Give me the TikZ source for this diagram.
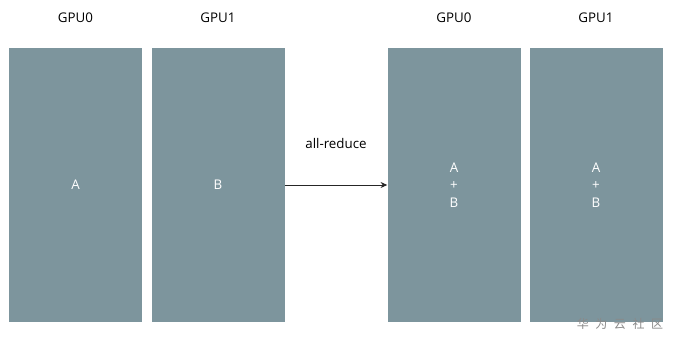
\documentclass[tikz,border=0pt]{standalone}
\usepackage{fontspec}
\setmainfont{Open Sans}
\newfontfamily\cjkfont{Noto Sans CJK SC}
\usetikzlibrary{arrows.meta}
\definecolor{boxgray}{HTML}{7D959D}
\definecolor{wmgray}{HTML}{8A8A8A}
\begin{document}
\begin{tikzpicture}[x=0.75pt,y=-0.75pt,
  gpubox/.style={fill=boxgray,draw=none,minimum width=133*0.75pt,minimum height=274*0.75pt,inner sep=0pt,font=\fontsize{10}{12}\selectfont,text=white,align=center},
  lbl/.style={font=\fontsize{10}{12}\selectfont,text=black,inner sep=0pt},
  arr/.style={draw=black!85,line width=0.6pt,-{Stealth[length=5pt,width=4.5pt]}}]
\useasboundingbox (0,0) rectangle (674,346);
\fill[white] (0,0) rectangle (674,346);
\node[gpubox] (b0) at (75.5,185) {A};
\node[gpubox] (b1) at (218,185) {B};
\node[gpubox] (b2) at (454,185) {A\\[1pt]+\\[1pt]B};
\node[gpubox] (b3) at (596,185) {A\\[1pt]+\\[1pt]B};
\node[lbl] (t0) at (75.5,18) {GPU0};
\node[lbl] (t1) at (218,18) {GPU1};
\node[lbl] (t2) at (454,18) {GPU0};
\node[lbl] (t3) at (596,18) {GPU1};
\draw[arr] (b1.east) -- node[lbl,above=36*0.75pt] (ar) {all-reduce} (b2.west);
\node[font=\cjkfont\fontsize{9}{10}\selectfont,text=wmgray,inner sep=0pt] (wm) at (620,324) {华\hspace{4.9pt}为\hspace{4.9pt}云\hspace{4.9pt}社\hspace{4.9pt}区};
\end{tikzpicture}
\end{document}
